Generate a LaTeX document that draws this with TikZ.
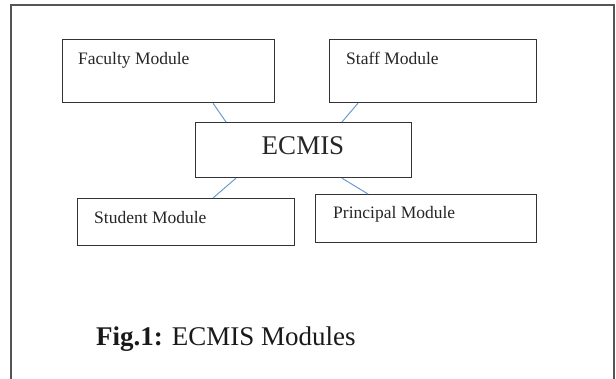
\documentclass[tikz,border=0pt]{standalone}
\usepackage{fontspec}
\setmainfont{Liberation Serif}
\definecolor{framegray}{HTML}{555555}
\definecolor{boxgray}{HTML}{333333}
\definecolor{linkblue}{HTML}{6A9BD1}
\begin{document}
\begin{tikzpicture}[x=1pt,y=-1pt,
  modbox/.style={draw=boxgray,line width=1.2pt,rectangle,inner sep=0pt,anchor=north west},
  modtext/.style={anchor=base west,inner sep=0pt,text=black!85,font=\fontsize{17.5}{20}\selectfont},
  link/.style={draw=linkblue,line width=1pt}]
\useasboundingbox (0,0) rectangle (616,379);
\draw[framegray,line width=1.6pt] (11,385) -- (11,5) -- (614,5) -- (614,385);
% boxes
\node[modbox,minimum width=212pt,minimum height=63pt] (fac) at (62,39) {};
\node[modbox,minimum width=207pt,minimum height=63pt] (sta) at (329,39) {};
\node[modbox,minimum width=216pt,minimum height=55pt] (ecm) at (195,122) {};
\node[modbox,minimum width=217pt,minimum height=47pt] (stu) at (77,198) {};
\node[modbox,minimum width=221pt,minimum height=48pt] (pri) at (315,194) {};
% texts
\node[modtext] (tfac) at (78,65) {Faculty Module};
\node[modtext] (tsta) at (346,65) {Staff Module};
\node[anchor=base,inner sep=0pt,text=black!85,font=\fontsize{27}{30}\selectfont] (tecm) at (303,155) {ECMIS};
\node[modtext] (tstu) at (94,224) {Student Module};
\node[modtext] (tpri) at (333,219) {Principal Module};
% links
\draw[link] ([xshift=151pt]fac.south west) -- ([xshift=31pt]ecm.north west);
\draw[link] ([xshift=29pt]sta.south west) -- ([xshift=147pt]ecm.north west);
\draw[link] ([xshift=41pt]ecm.south west) -- ([xshift=136pt]stu.north west);
\draw[link] ([xshift=147pt]ecm.south west) -- ([xshift=53pt]pri.north west);
% caption
\node[anchor=base west,inner sep=0pt,text=black!90,font=\fontsize{27}{30}\selectfont] (cap) at (96,345) {\textbf{Fig.1:} ECMIS Modules};
\end{tikzpicture}
\end{document}
